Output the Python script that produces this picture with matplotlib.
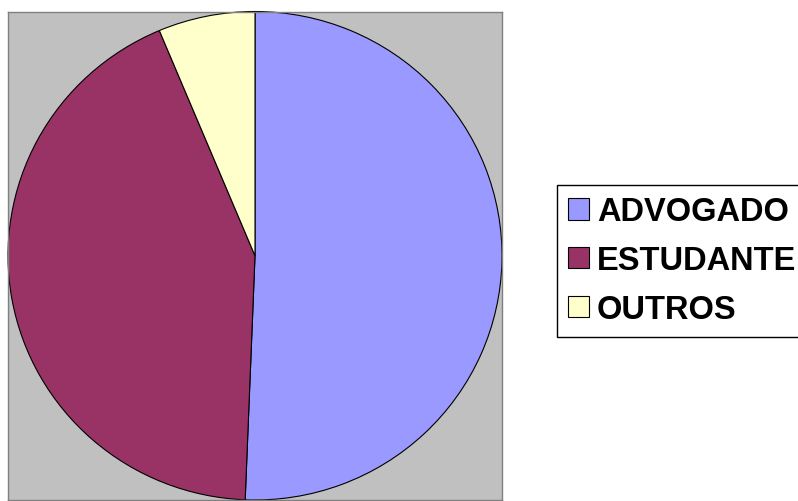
import matplotlib
matplotlib.use("Agg")
import matplotlib.pyplot as plt
from matplotlib.patches import Patch

labels = ["ADVOGADO", "ESTUDANTE", "OUTROS"]
counts = [80, 68, 10]
colors = ["#9999FF", "#993366", "#FFFFCC"]

W, H = 798, 502
fig = plt.figure(figsize=(W / 100, H / 100), dpi=100)
fig.patch.set_facecolor("white")

# plot area in pixels: left, top, right, bottom
x0, y0, x1, y1 = 8, 12.5, 502, 501
ax = fig.add_axes([x0 / W, 1 - y1 / H, (x1 - x0) / W, (y1 - y0) / H])
ax.set_facecolor("#C0C0C0")
for s in ax.spines.values():
    s.set_edgecolor("#808080")
    s.set_linewidth(1)

ax.pie(counts, colors=colors, startangle=90, counterclock=False,
       radius=1, wedgeprops=dict(edgecolor="black", linewidth=0.8))
ax.set_aspect("auto")
ax.set_xlim(-1.0, 1.0)
ax.set_ylim(-1.0, 1.0)
ax.set_xticks([])
ax.set_yticks([])
ax.set_frame_on(True)

handles = [Patch(facecolor=c, edgecolor="black", linewidth=0.8) for c in colors]
leg = fig.legend(handles, labels, loc="upper left",
                 bbox_to_anchor=(557 / W, 1 - 186 / H), borderaxespad=0,
                 prop=dict(family="Liberation Sans", weight="bold", size=23.5),
                 handlelength=0.62, handleheight=0.62, handletextpad=0.25,
                 labelspacing=0.55, borderpad=0.35, fancybox=False,
                 framealpha=1, edgecolor="black")
leg.get_frame().set_linewidth(1)

fig.savefig("out.png", dpi=100)
